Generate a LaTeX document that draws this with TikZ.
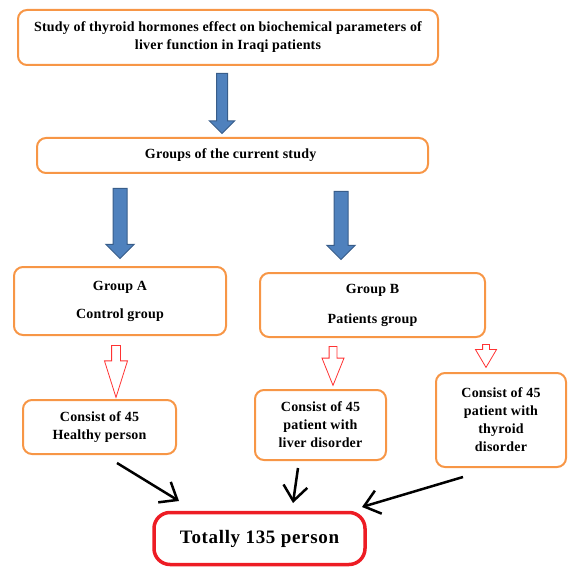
\documentclass[tikz,border=0pt]{standalone}
\usepackage{fontspec}
\setmainfont{Liberation Serif}
\newfontfamily\boxfont[LetterSpace=1.5]{Liberation Serif}
\newfontfamily\totalfont[LetterSpace=3.5]{Liberation Serif}
\usepackage{tikz}
\usetikzlibrary{shapes,arrows.meta,calc,positioning}

\definecolor{boxorange}{HTML}{F79646}
\definecolor{arrowblue}{HTML}{4F81BD}
\definecolor{arrowedge}{HTML}{385D8A}
\definecolor{totalred}{HTML}{ED1C24}

\begin{document}
\begin{tikzpicture}[x=1pt,y=-1pt,
    box/.style={draw=boxorange,line width=2pt,rounded corners=9pt,align=center,inner sep=0pt,
      font=\boxfont\bfseries\fontsize{14}{18}\selectfont},
    bluearrow/.style={single arrow,draw=arrowedge,fill=arrowblue,line width=1pt,inner sep=0pt,
      single arrow tip angle=90,anchor=tail,rotate=-90},
    redarrow/.style={single arrow,draw=red!80,fill=white,line width=0.8pt,inner sep=0pt,
      anchor=tail,rotate=-90},
    joinarrow/.style={-{Straight Barb[length=15pt,width=24pt]},line width=2.5pt}]
      \useasboundingbox (0,0) rectangle (568,567);

      \node[box,minimum width=420pt,minimum height=55pt] (study) at (228,37.5) {
        Study of thyroid hormones effect on biochemical parameters of\\
        liver function in Iraqi patients
      };
      \node[box,minimum width=391pt,minimum height=35pt] (groups) at (232.5,155.5) {
        Groups of the current study
      };
      \node[box,minimum width=212pt,minimum height=68pt] (grpA) at (120,301) {
        Group A\\[10pt]
        Control group
      };
      \node[box,minimum width=225pt,minimum height=64pt] (grpB) at (372.5,305) {
        Group B\\[12pt]
        Patients group
      };
      \node[box,minimum width=153pt,minimum height=54pt] (healthy) at (99.5,427) {
        Consist of 45\\
        Healthy person
      };
      \node[box,minimum width=131pt,minimum height=70pt] (liver) at (320.5,425) {
        Consist of 45\\
        patient with\\
        liver disorder
      };
      \node[box,minimum width=130pt,minimum height=94pt] (thyroid) at (501,420) {
        Consist of 45\\
        patient with\\
        thyroid\\
        disorder
      };
      \node[draw=totalred,line width=3.5pt,rounded corners=16pt,minimum width=211pt,minimum height=52pt,
        font=\totalfont\bfseries\fontsize{19}{22}\selectfont] (total) at (259.5,538.5) {Totally 135 person};

      % block arrows between the levels
      \node[bluearrow,minimum height=60pt,minimum width=22pt,inner ysep=5pt] (toGroups) at (222,73) {};
      \node[bluearrow,minimum height=70pt,minimum width=26pt,inner ysep=6.5pt] (toA) at (120,188) {};
      \node[bluearrow,minimum height=68pt,minimum width=27pt,inner ysep=6.5pt] (toB) at (341,191) {};

      \node[redarrow,minimum height=52pt,minimum width=16pt,inner ysep=4pt,single arrow tip angle=35] (toHealthy) at (116,345) {};
      \node[redarrow,minimum height=39pt,minimum width=16pt,inner ysep=3.5pt,single arrow tip angle=44] (toLiver) at (333,346) {};
      \node[redarrow,minimum height=23pt,minimum width=13pt,inner ysep=3pt,single arrow tip angle=61] (toThyroid) at (486,344) {};

      \coordinate (fromHealthy) at (117,463);
      \coordinate (fromLiver) at (298,468);
      \coordinate (fromThyroid) at (463,477);
      \coordinate (inLeft) at (179,501);
      \coordinate (inMid) at (293,503);
      \coordinate (inRight) at (362,507);

      \draw[joinarrow] (fromHealthy) -- (inLeft);
      \draw[joinarrow] (fromLiver) -- (inMid);
      \draw[joinarrow] (fromThyroid) -- (inRight);
\end{tikzpicture}
\end{document}
